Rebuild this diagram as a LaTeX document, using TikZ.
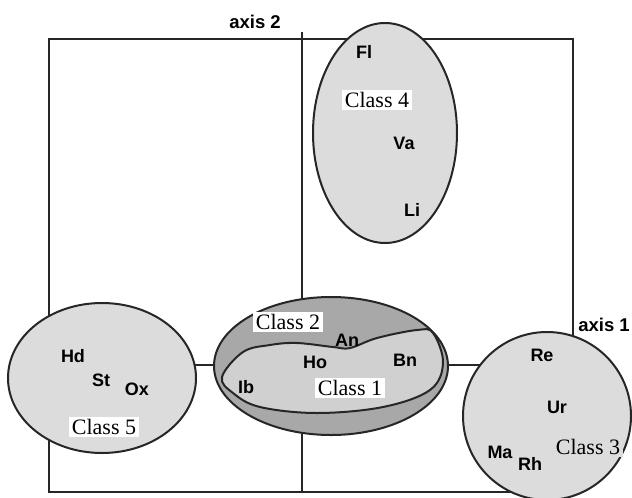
\documentclass[tikz,border=0pt]{standalone}
\usepackage{fontspec}
\setmainfont{Liberation Serif}
\setsansfont{Liberation Sans}
\usetikzlibrary{shapes.geometric}
\pgfdeclarelayer{bg}
\pgfsetlayers{bg,main}
\definecolor{lightfill}{HTML}{DCDCDC}
\definecolor{midfill}{HTML}{D0D0D0}
\definecolor{darkfill}{HTML}{A8A8A8}
\tikzset{
  lw/.style={line width=2pt, draw=black!85},
  classshape/.style={ellipse, lw, fill=lightfill, inner sep=0pt},
  abbr/.style={font=\fontsize{18}{18}\sffamily\bfseries, inner sep=1pt},
  classlbl/.style={font=\fontsize{22}{22}\selectfont, fill=white, inner sep=2.5pt},
  axislbl/.style={font=\fontsize{18.5}{18.5}\sffamily\bfseries, inner sep=1pt}
}
\begin{document}
\begin{tikzpicture}[x=1pt,y=-1pt]
\useasboundingbox (0,0) rectangle (632,498);
% class shapes
\node[classshape, minimum width=144pt, minimum height=220pt] (c4) at (385,133) {};
\node[classshape, minimum width=188pt, minimum height=150pt] (c5) at (102,378) {};
\node[classshape, circle, minimum size=168pt] (c3) at (547,416) {};
\node[classshape, fill=darkfill, minimum width=234pt, minimum height=138pt] (c2) at (331,366) {};
\draw[lw, fill=midfill] plot[smooth cycle, tension=0.6] coordinates {
  (222,377) (243,352) (270,345) (297,343) (333,347) (350,348) (377,338)
  (417,330) (433,333) (443,363) (430,390) (383,407) (317,413) (260,407) (233,393)};
% frame and axes
\coordinate (axtop) at (302,32);
\coordinate (axbot) at (302,492);
\coordinate (tl) at (49,39);
\coordinate (br) at (573,492);
\begin{pgfonlayer}{bg}
  \draw[lw] (tl) rectangle (br);
  \draw[lw] (axtop) -- (axbot);
  \draw[lw] (c5.center |- 0,365) -- (c3.center |- 0,365);
\end{pgfonlayer}
% axis labels
\node[axislbl] (ax2) at (255,22) {axis 2};
\node[axislbl] (ax1) at (604,325) {axis 1};
% class 4
\node[abbr] (fl) at (364,52) {Fl};
\node[classlbl] (l4) at (377,100) {Class 4};
\node[abbr] (va) at (404,143) {Va};
\node[abbr] (li) at (412,210) {Li};
% class 5
\node[abbr] (hd) at (73,356) {Hd};
\node[abbr] (st) at (101,380) {St};
\node[abbr] (ox) at (137,389) {Ox};
\node[classlbl] (l5) at (104,427) {Class 5};
% class 3
\node[abbr] (re) at (542,355) {Re};
\node[abbr] (ur) at (557,407) {Ur};
\node[abbr] (ma) at (500,452) {Ma};
\node[abbr] (rh) at (530,464) {Rh};
\node[classlbl, fill=lightfill] (l3) at (588,447) {Class 3};
% class 1 and 2
\node[classlbl] (l2) at (288,322) {Class 2};
\node[abbr] (an) at (347,340) {An};
\node[abbr] (ho) at (315,362) {Ho};
\node[abbr] (bn) at (405,360) {Bn};
\node[abbr] (ib) at (246,387) {Ib};
\node[classlbl] (l1) at (350,388) {Class 1};
\end{tikzpicture}
\end{document}
